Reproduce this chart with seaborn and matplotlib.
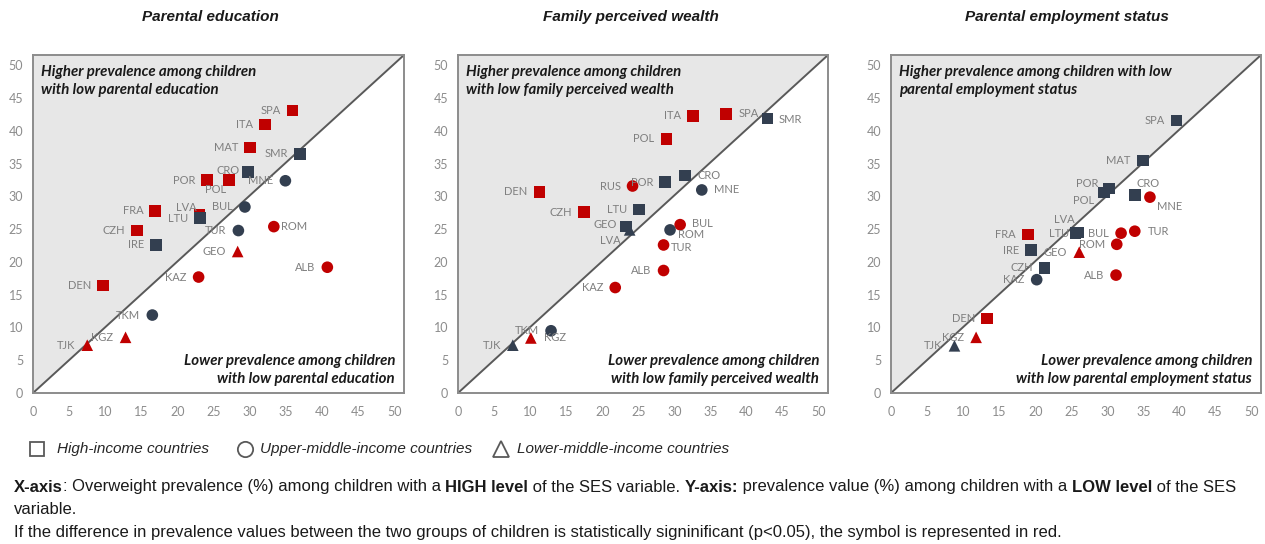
import numpy as np
import pandas as pd
import matplotlib
matplotlib.use("Agg")
import matplotlib.pyplot as plt
from matplotlib.lines import Line2D
import seaborn as sns

# ---- Parental education ----
edu_countries = ["SPA", "ITA", "MAT", "SMR", "CRO", "POR", "POL", "MNE", "BUL", "FRA", "LVA", "LTU",
                 "ROM", "TUR", "CZH", "IRE", "GEO", "ALB", "KAZ", "DEN", "TKM", "KGZ", "TJK"]
edu_high = [35.9, 32.1, 30.0, 36.9, 29.7, 24.1, 27.1, 34.9, 29.3, 16.9, 23.0, 23.1,
            33.3, 28.4, 14.4, 17.0, 28.3, 40.7, 22.9, 9.7, 16.5, 12.8, 7.5]
edu_low = [43.1, 41.0, 37.5, 36.5, 33.7, 32.5, 32.5, 32.4, 28.4, 27.8, 27.2, 26.7,
           25.4, 24.8, 24.8, 22.6, 21.6, 19.2, 17.7, 16.4, 11.9, 8.5, 7.3]
edu_income = ["H", "H", "H", "H", "H", "H", "H", "U", "U", "H", "H", "H",
              "U", "U", "H", "H", "L", "U", "U", "H", "U", "L", "L"]
edu_sig = [1, 1, 1, 0, 0, 1, 1, 0, 0, 1, 1, 0, 1, 0, 1, 0, 1, 1, 1, 1, 0, 1, 1]

# ---- Family perceived wealth ----
wea_countries = ["ITA", "SPA", "SMR", "POL", "CRO", "POR", "RUS", "DEN", "MNE", "LTU", "CZH",
                 "BUL", "LVA", "GEO", "ROM", "TUR", "ALB", "KAZ", "TKM", "KGZ", "TJK"]
wea_high = [32.6, 37.2, 42.9, 28.9, 31.5, 28.7, 24.2, 11.3, 33.8, 25.1, 17.5,
            30.8, 23.3, 23.8, 29.4, 28.5, 28.5, 21.8, 12.9, 10.1, 7.6]
wea_low = [42.3, 42.6, 41.9, 38.8, 33.2, 32.2, 31.6, 30.7, 31.0, 28.0, 27.6,
           25.7, 25.4, 24.9, 24.9, 22.6, 18.7, 16.1, 9.5, 8.4, 7.3]
wea_income = ["H", "H", "H", "H", "H", "H", "U", "H", "U", "H", "H",
              "U", "H", "L", "U", "U", "U", "U", "U", "L", "L"]
wea_sig = [1, 1, 0, 1, 0, 0, 1, 1, 0, 0, 1, 1, 0, 0, 0, 1, 1, 1, 0, 1, 0]

# ---- Parental employment status ----
emp_countries = ["SPA", "MAT", "POR", "POL", "CRO", "MNE", "LVA", "LTU", "FRA", "BUL", "TUR",
                 "ROM", "IRE", "GEO", "CZH", "KAZ", "ALB", "DEN", "KGZ", "TJK"]
emp_high = [39.6, 34.9, 30.2, 29.5, 33.8, 35.9, 26.0, 25.6, 19.0, 31.9, 33.8,
            31.3, 19.4, 26.1, 21.3, 20.2, 31.2, 13.3, 11.8, 8.8]
emp_low = [41.6, 35.5, 31.2, 30.6, 30.2, 29.9, 24.5, 24.4, 24.2, 24.4, 24.7,
           22.7, 21.8, 21.5, 19.1, 17.3, 18.0, 11.4, 8.5, 7.2]
emp_income = ["H", "H", "H", "H", "H", "U", "H", "H", "H", "U", "U",
              "U", "H", "L", "H", "U", "U", "H", "L", "L"]
emp_sig = [0, 0, 0, 0, 0, 1, 0, 0, 1, 1, 1, 1, 0, 1, 0, 0, 1, 1, 1, 0]

titles = ["Parental education", "Family perceived wealth", "Parental employment status"]
upper_notes = ["Higher prevalence among children\nwith low parental education",
               "Higher prevalence among children\nwith low family perceived wealth",
               "Higher prevalence among children with low\nparental employment status"]
lower_notes = ["Lower prevalence among children\nwith low parental education",
               "Lower prevalence among children\nwith low family perceived wealth",
               "Lower prevalence among children\nwith low parental employment status"]
ticks = list(range(0, 51, 5))
legend_labels = ["High-income countries", "Upper-middle-income countries", "Lower-middle-income countries"]

panels = [
    (edu_countries, edu_high, edu_low, edu_income, edu_sig),
    (wea_countries, wea_high, wea_low, wea_income, wea_sig),
    (emp_countries, emp_high, emp_low, emp_income, emp_sig),
]

# label placement (pixel offsets from marker, alignment); default is to the left
label_place = [
    {"CRO": (-8, 2, "right"), "POL": (-3, -9, "right"), "LVA": (-3, 7, "right"),
     "ROM": (7, 0, "left")},
    {"SPA": (12, 0, "left"), "SMR": (11, -1, "left"), "CRO": (12, 0, "left"),
     "MNE": (12, 0, "left"), "BUL": (12, 1, "left"), "ROM": (8, -5, "left"),
     "TUR": (7, -3, "left"), "KGZ": (13, 0, "left"), "LVA": (-5, -14, "right"),
     "GEO": (-13, 5, "right")},
    {"POR": (-10, 5, "right"), "POL": (-10, -8, "right"), "CRO": (2, 12, "left"),
     "MNE": (7, -9, "left"), "LVA": (-4, 13, "right"), "LTU": (-7, 0, "right"),
     "TUR": (13, 0, "left")},
]

RED = "#C00000"
NAVY = "#333F50"
FRAME_GRAY = "#8C8C8C"
TEXT_DARK = "#1A1A1A"

sns.set_theme(style="white")
plt.rcParams["font.family"] = ["Lato", "DejaVu Sans"]

W, H = 1265, 544
fig = plt.figure(figsize=(W / 100, H / 100), dpi=100)

ax_px = [(33, 404), (458, 828), (891, 1261)]
top_px, bot_px = 55, 393
title_x = [210, 631, 1067]
XMAX, YMAX = 51.3, 51.6

for i, (cty, xh, yl, inc, sig) in enumerate(panels):
    l, r = ax_px[i]
    ax = fig.add_axes([l / W, 1 - bot_px / H, (r - l) / W, (bot_px - top_px) / H])
    df = pd.DataFrame({"country": cty, "high": xh, "low": yl,
                       "income": inc, "sig": ["red" if s else "navy" for s in sig]})

    # shaded half above the line of equality
    ax.fill([0, 0, 1], [0, 1, 1], transform=ax.transAxes, color="#E7E7E7", zorder=0, lw=0)
    ax.plot([0, 1], [0, 1], transform=ax.transAxes, color="#595959", lw=1.4, zorder=1)

    sns.scatterplot(data=df, x="high", y="low", hue="sig", style="income",
                    palette={"red": RED, "navy": NAVY},
                    markers={"H": "s", "U": "o", "L": "^"},
                    s=70, linewidth=0, legend=False, ax=ax, zorder=3)

    places = label_place[i]
    for c, xv, yv in zip(cty, xh, yl):
        dx, dy, ha = places.get(c, (-12, 0, "right"))
        ax.annotate(c, (xv, yv), xytext=(dx, dy), textcoords="offset pixels",
                    ha=ha, va="center", fontsize=8, color="#7F7F7F", zorder=4)

    ax.set_xlim(0, XMAX)
    ax.set_ylim(0, YMAX)
    ax.set_xticks(ticks)
    ax.set_yticks(ticks)
    ax.set_xlabel("")
    ax.set_ylabel("")
    ax.tick_params(axis="both", length=0, labelsize=9, labelcolor="#8C8C8C")
    ax.tick_params(axis="x", pad=9)
    ax.tick_params(axis="y", pad=7)
    for sp in ax.spines.values():
        sp.set_color(FRAME_GRAY)
        sp.set_linewidth(1.4)

    ax.text(0.022, 0.97, upper_notes[i], transform=ax.transAxes, ha="left", va="top",
            fontsize=10.8, fontweight="bold", fontstyle="italic", color=TEXT_DARK,
            linespacing=1.35, zorder=5)
    ax.text(0.976, 0.022, lower_notes[i], transform=ax.transAxes, ha="right", va="bottom",
            fontsize=10.8, fontweight="bold", fontstyle="italic", color=TEXT_DARK,
            linespacing=1.35, multialignment="right", zorder=5)

    fig.text(title_x[i] / W, 1 - 17 / H, titles[i], ha="center", va="center",
             fontsize=11, fontweight="bold", fontstyle="italic", color=TEXT_DARK,
             family=["Liberation Sans", "DejaVu Sans"])

# overlay axes for the legend and the footnote
note_ax = fig.add_axes([0, 0, 1, 1])
note_ax.set_xlim(0, W)
note_ax.set_ylim(H, 0)
note_ax.axis("off")

arial = ["Liberation Sans", "DejaVu Sans"]

# income-group legend
leg_y = 449
for mk, mx, tx, lab, ms in zip(["s", "o", "^"], [37, 245, 501], [57, 260, 517],
                               legend_labels, [10, 11, 11]):
    note_ax.plot([mx], [leg_y], marker=mk, markersize=ms, markerfacecolor="white",
                 markeredgecolor="#595959", markeredgewidth=1.3, linestyle="none")
    note_ax.text(tx, leg_y, lab, ha="left", va="center", fontsize=11, fontstyle="italic",
                 color="#262626", family=arial)

# footnote, with bold keywords run inline
line1 = [("X-axis", True), (": Overweight prevalence (%) among children with a ", False),
         ("HIGH level", True), (" of the SES variable. ", False), ("Y-axis:", True),
         (" prevalence value (%) among children with a ", False), ("LOW level", True),
         (" of the SES", False)]
line2 = "variable."
line3 = ("If the difference in prevalence values between the two groups of children is "
         "statistically signinificant (p<0.05), the symbol is represented in red.")

FOOT_SIZE = 12
prev = None
for txt, bold in line1:
    kw = dict(fontsize=FOOT_SIZE, color=TEXT_DARK, family=arial,
              fontweight="bold" if bold else "normal")
    if prev is None:
        prev = note_ax.text(14, 487, txt, ha="left", va="center", **kw)
    else:
        prev = note_ax.annotate(txt, xy=(1, 0), xycoords=prev, xytext=(0, 0),
                                textcoords="offset points", ha="left", va="bottom",
                                annotation_clip=False, **kw)

note_ax.text(14, 509, line2, ha="left", va="center", fontsize=FOOT_SIZE,
             color=TEXT_DARK, family=arial)
note_ax.text(14, 533, line3, ha="left", va="center", fontsize=FOOT_SIZE,
             color=TEXT_DARK, family=arial)

fig.savefig("out.png", dpi=100)
